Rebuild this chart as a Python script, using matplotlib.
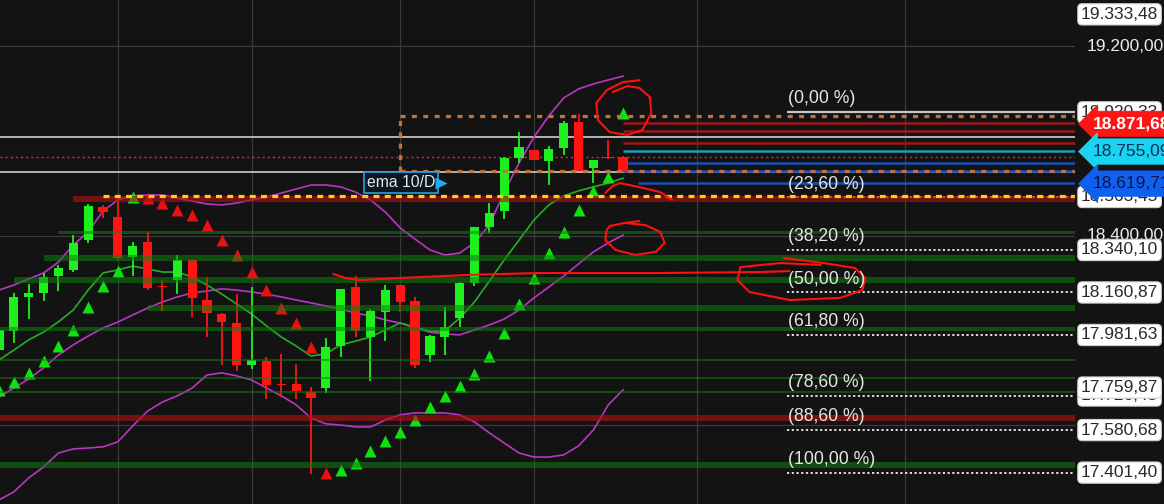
import matplotlib.pyplot as plt
import numpy as np
from matplotlib.transforms import blended_transform_factory

plt.rcParams['font.family'] = ['Liberation Sans', 'DejaVu Sans']
plt.rcParams['lines.scale_dashes'] = False

# daily candles (index 0 .. 42)
opens = [17918, 17998, 18142, 18159, 18230, 18256, 18382, 18521, 18479, 18310,
         18374, 18186, 18213, 18298, 18129, 18070, 18032, 17855, 17872, 17773,
         17775, 17741, 17758, 17935, 18184, 17973, 18079, 18192, 18125, 17897,
         17973, 18053, 18201, 18437, 18504, 18728, 18761, 18715, 18770, 18880,
         18686, 18732, 18732]
highs = [18024, 18159, 18197, 18243, 18277, 18403, 18534, 18530, 18563, 18374,
         18416, 18213, 18319, 18300, 18226, 18074, 18154, 18184, 17889, 17902,
         17859, 17762, 17969, 18176, 18230, 18091, 18192, 18192, 18142, 17982,
         18100, 18205, 18437, 18538, 18732, 18837, 18761, 18778, 18884, 18913,
         18719, 18804, 18735]
lows = [17897, 17948, 18049, 18125, 18167, 18247, 18369, 18475, 18298, 18230,
        18171, 18083, 18154, 18058, 17973, 17855, 17830, 17838, 17712, 17720,
        17712, 17396, 17737, 17889, 17973, 17788, 17956, 18079, 17843, 17868,
        17897, 18015, 18188, 18412, 18471, 18707, 18719, 18614, 18740, 18673,
        18622, 18723, 18669]
closes = [18003, 18142, 18159, 18226, 18264, 18369, 18525, 18500, 18306, 18357,
          18180, 18182, 18298, 18138, 18074, 18036, 17855, 17876, 17771, 17769,
          17746, 17716, 17931, 18176, 17998, 18083, 18171, 18121, 17855, 17977,
          18015, 18201, 18437, 18496, 18728, 18774, 18719, 18766, 18875, 18673,
          18719, 18728, 18669]

ema10 = [17876, 17918, 17961, 17994, 18037, 18087, 18171, 18243, 18256, 18272,
         18260, 18247, 18247, 18226, 18192, 18154, 18112, 18070, 18020, 17973,
         17935, 17893, 17902, 17940, 17956, 17973, 18003, 18032, 18015, 17998,
         17998, 18053, 18121, 18209, 18298, 18382, 18466, 18530, 18568, 18589,
         18606, 18622, 18643]
bb_upper = [18171, 18192, 18218, 18243, 18289, 18361, 18416, 18504, 18551, 18568,
            18572, 18572, 18559, 18546, 18534, 18530, 18538, 18551, 18563, 18580,
            18597, 18614, 18614, 18606, 18584, 18551, 18500, 18433, 18386, 18340,
            18319, 18327, 18370, 18445, 18584, 18707, 18816, 18905, 18981, 19019,
            19040, 19057, 19073]
bb_mid = [17720, 17758, 17796, 17843, 17897, 17940, 17977, 18011, 18036, 18066,
          18095, 18121, 18142, 18159, 18167, 18176, 18171, 18163, 18154, 18142,
          18129, 18117, 18104, 18091, 18074, 18062, 18045, 18032, 18011, 17994,
          17986, 17982, 18003, 18024, 18049, 18087, 18138, 18184, 18230, 18281,
          18332, 18370, 18403]
bb_lower = [17286, 17320, 17379, 17425, 17484, 17501, 17505, 17510, 17531, 17598,
            17661, 17699, 17725, 17758, 17813, 17822, 17809, 17792, 17758, 17725,
            17687, 17632, 17607, 17602, 17594, 17594, 17623, 17645, 17653, 17653,
            17653, 17645, 17615, 17569, 17526, 17484, 17467, 17467, 17476, 17514,
            17581, 17687, 17750]

sar = [17750, 17784, 17822, 17872, 17935, 18003, 18100, 18188, 18251, 18563,
       18559, 18538, 18509, 18488, 18445, 18382, 18319, 18247, 18171, 18095,
       18032, 17931, 17400, 17413, 17442, 17493, 17535, 17573, 17623, 17678,
       17725, 17767, 17817, 17893, 17990, 18112, 18222, 18327, 18416, 18509,
       18589, 18648, 18917]
sar_long = [1] * 10 + [0] * 13 + [1] * 20

# support / resistance zones: low, high, first bar
green_lo = [18406, 18295, 18202, 18084, 17998, 17872, 17796, 17737, 17421]
green_hi = [18418, 18317, 18224, 18106, 18016, 17880, 17804, 17745, 17447]
green_from = [4, 3, 1, 10, 0, 0, 0, 0, 0]
red_lo = [18542, 17621]
red_hi = [18568, 17643]
red_from = [5, 0]

# fibonacci retracement
fib_pct = ['(0,00 %)', '(23,60 %)', '(38,20 %)', '(50,00 %)', '(61,80 %)',
           '(78,60 %)', '(88,60 %)', '(100,00 %)']
fib_price = [18920.33, 18561.86, 18340.10, 18160.87, 17981.63, 17726.45,
             17580.68, 17401.40]
fib_from = 53

grid_prices = [19200, 18400, 17600]
grid_bars = [8, 17, 27, 36, 47, 61]

gray_lines = [18817, 18667]
last_price = 18733
yellow_level = 18567
box_top, box_bottom, box_from = 18905, 18674, 27
right_red = [18876, 18843, 18791]
right_teal = [18758]
right_blue = [18705, 18674, 18621]

axis_boxes = ['19.333,48', '18.920,33', '18.563,45', '18.340,10', '18.160,87',
              '17.981,63', '17.726,45', '17.759,87', '17.580,68', '17.401,40']
axis_box_prices = [19333.48, 18920.33, 18563.45, 18340.10, 18160.87,
                   17981.63, 17726.45, 17759.87, 17580.68, 17401.40]
axis_plain = ['19.200,00', '18.400,00']
axis_plain_prices = [19200, 18400]
tag_text = ['18.871,68', '18.755,09', '18.619,71']
tag_prices = [18871.68, 18755.09, 18619.71]

# hand drawn marks (bar index, price)
circle_x = [43.1, 42.0, 40.9, 40.2, 40.3, 41.1, 42.3, 43.3, 43.9, 43.8, 43.1, 42.3, 41.3]
circle_y = [19056, 19048, 19014, 18960, 18888, 18837, 18825, 18846, 18917, 18985, 19023, 19031, 19006]
tail_x = [40.8, 41.3, 41.8, 43.1, 44.5, 45.3]
tail_y = [18580, 18610, 18622, 18605, 18584, 18551]
loop_x = [43.1, 42.1, 41.1, 40.9, 40.8, 41.5, 42.8, 44.2, 44.8, 44.5, 43.5, 42.1]
loop_y = [18462, 18454, 18441, 18424, 18382, 18340, 18319, 18332, 18370, 18416, 18445, 18454]
long_x = [22.5, 23.3, 24.3, 27.0, 31.7, 36.4, 44.5, 51.2, 53.2]
long_y = [18239, 18222, 18213, 18222, 18235, 18243, 18243, 18247, 18251]
ring_x = [52.8, 55.5, 57.6, 58.3, 58.1, 56.6, 53.2, 50.5, 49.7, 49.9, 52.6, 55.3]
ring_y = [18306, 18285, 18264, 18222, 18171, 18138, 18129, 18163, 18213, 18268, 18285, 18277]

fig = plt.figure(figsize=(11.64, 5.04), dpi=100, facecolor='#131313')
ax = fig.add_axes([0, 0, 1075 / 1164, 1])
ax.set_facecolor('black')
ax.set_xlim(0.07, 72.41)
ax.set_ylim(17269, 19394)
ax.axis('off')

x = np.arange(len(opens))
last = x[-1]
xmax = 72.41

for g in grid_prices:
    ax.axhline(g, color='#3a3a3a', lw=0.9, zorder=0)
for b in grid_bars:
    ax.axvline(b, color='#3a3a3a', lw=0.9, zorder=0)

for g in gray_lines:
    ax.axhline(g, color='#b4b4b4', lw=1.4, zorder=1)
ax.axhline(last_price, color='#ff2020', lw=1.0, ls=(0, (1.5, 2.2)), zorder=1)

# right side levels
for p in right_red:
    ax.hlines(p, last, xmax, color='#a01616', lw=1.8, zorder=1)
for p in right_teal:
    ax.hlines(p, last, xmax, color='#1aa0b8', lw=1.8, zorder=1)
for p in right_blue:
    ax.hlines(p, last + (1 if p == right_blue[-1] else 0), xmax, color='#1a50b4', lw=1.8, zorder=1)

# fib lines
ax.hlines(fib_price[0], fib_from, xmax, color='#c8c8c8', lw=1.6, zorder=1)
ax.hlines(fib_price[1:], fib_from, xmax, color='white', lw=1.2, ls=(0, (1.6, 1.8)), zorder=1)
for lab, p in zip(fib_pct, fib_price):
    ax.annotate(lab, (fib_from + 0.1, p), xytext=(0, 3.5), textcoords='offset points',
                color='#e6e6e6', fontsize=12.7, ha='left', va='bottom', zorder=8)

# bollinger + ema
ax.plot(x, bb_upper, color='#b935c4', lw=1.2, zorder=2)
ax.plot(x, bb_mid, color='#b935c4', lw=1.2, zorder=2)
ax.plot(x, bb_lower, color='#b935c4', lw=1.2, zorder=2)
ax.plot(x, ema10, color='#22b022', lw=1.2, zorder=2)

# candles
o = np.array(opens); c = np.array(closes)
up = c >= o
cols = np.where(up, '#1ef01e', '#ff1414')
ax.vlines(x, lows, highs, colors=cols, lw=1.3, zorder=3)
body_lo = np.minimum(o, c)
body_h = np.maximum(np.abs(c - o), 6)
ax.bar(x, body_h, bottom=body_lo, width=0.62, color=cols, zorder=3)

# sar triangles
sar = np.array(sar); sl = np.array(sar_long, bool)
ax.plot(x[sl], sar[sl], '^', color='#10e010', ms=8.3, mec='none', zorder=3)
ax.plot(x[~sl], sar[~sl], '^', color='#e81010', ms=8.3, mec='none', zorder=3)

# zones (translucent, on top)
for lo, hi, f in zip(green_lo, green_hi, green_from):
    ax.fill_between([f, xmax], lo, hi, color='#0f800f', alpha=0.55, lw=0, zorder=5)
for lo, hi, f in zip(red_lo, red_hi, red_from):
    ax.fill_between([f, xmax], lo, hi, color='#b01010', alpha=0.62, lw=0, zorder=5)

ax.hlines(yellow_level, 7, xmax, color='#ffcc10', lw=2.3, ls=(0, (4.3, 3.8)), zorder=6)
ax.hlines([box_top, box_bottom], box_from, xmax, color='#c0743c', lw=2.3, ls=(0, (3.6, 4.6)), zorder=6)
ax.vlines(box_from, box_bottom, box_top, color='#c0743c', lw=2.3, ls=(0, (3.6, 4.6)), zorder=6)

# hand drawn red marks
for hx, hy in [(circle_x, circle_y), (tail_x, tail_y), (loop_x, loop_y),
               (long_x, long_y), (ring_x, ring_y)]:
    ax.plot(hx, hy, color='#ff1010', lw=1.5, zorder=7, solid_capstyle='round')

# ema tag
ax.text(24.75, 18624, 'ema 10/D', color='#e8e8e8', fontsize=11.3, ha='left', va='center', zorder=9,
        bbox=dict(boxstyle='square,pad=0.2', fc='#0b1824', ec='#28a0e0', lw=1.2))
ax.plot([29.75], [18624], '>', color='#22aaee', ms=9, mec='none', zorder=9)

# right axis labels
tr = blended_transform_factory(ax.transAxes, ax.transData)
for t, p in zip(axis_plain, axis_plain_prices):
    ax.text(1.0105, p, t, transform=tr, color='#ececec', fontsize=12.5, ha='left', va='center', clip_on=False)
for t, p in zip(axis_boxes, axis_box_prices):
    ax.text(1.0055, p, t, transform=tr, color='#2a2a2a', fontsize=12.5, ha='left', va='center', clip_on=False,
            bbox=dict(boxstyle='round,pad=0.18,rounding_size=0.25', fc='white', ec='#cfcfcf', lw=0.8))
tag_fc = ['#ff1414', '#1ad2f2', '#1060f0']
tag_tc = ['white', '#0b3050', '#06164a']
for t, p, fc, tc in zip(tag_text, tag_prices, tag_fc, tag_tc):
    ax.text(1.0165, p, t, transform=tr, color=tc, fontsize=12.5, ha='left', va='center', clip_on=False,
            fontweight='bold' if tc == 'white' else 'normal',
            bbox=dict(boxstyle='larrow,pad=0.3', fc=fc, ec=fc, lw=0.5))

fig.savefig('out.png', dpi=100, facecolor=fig.get_facecolor())
